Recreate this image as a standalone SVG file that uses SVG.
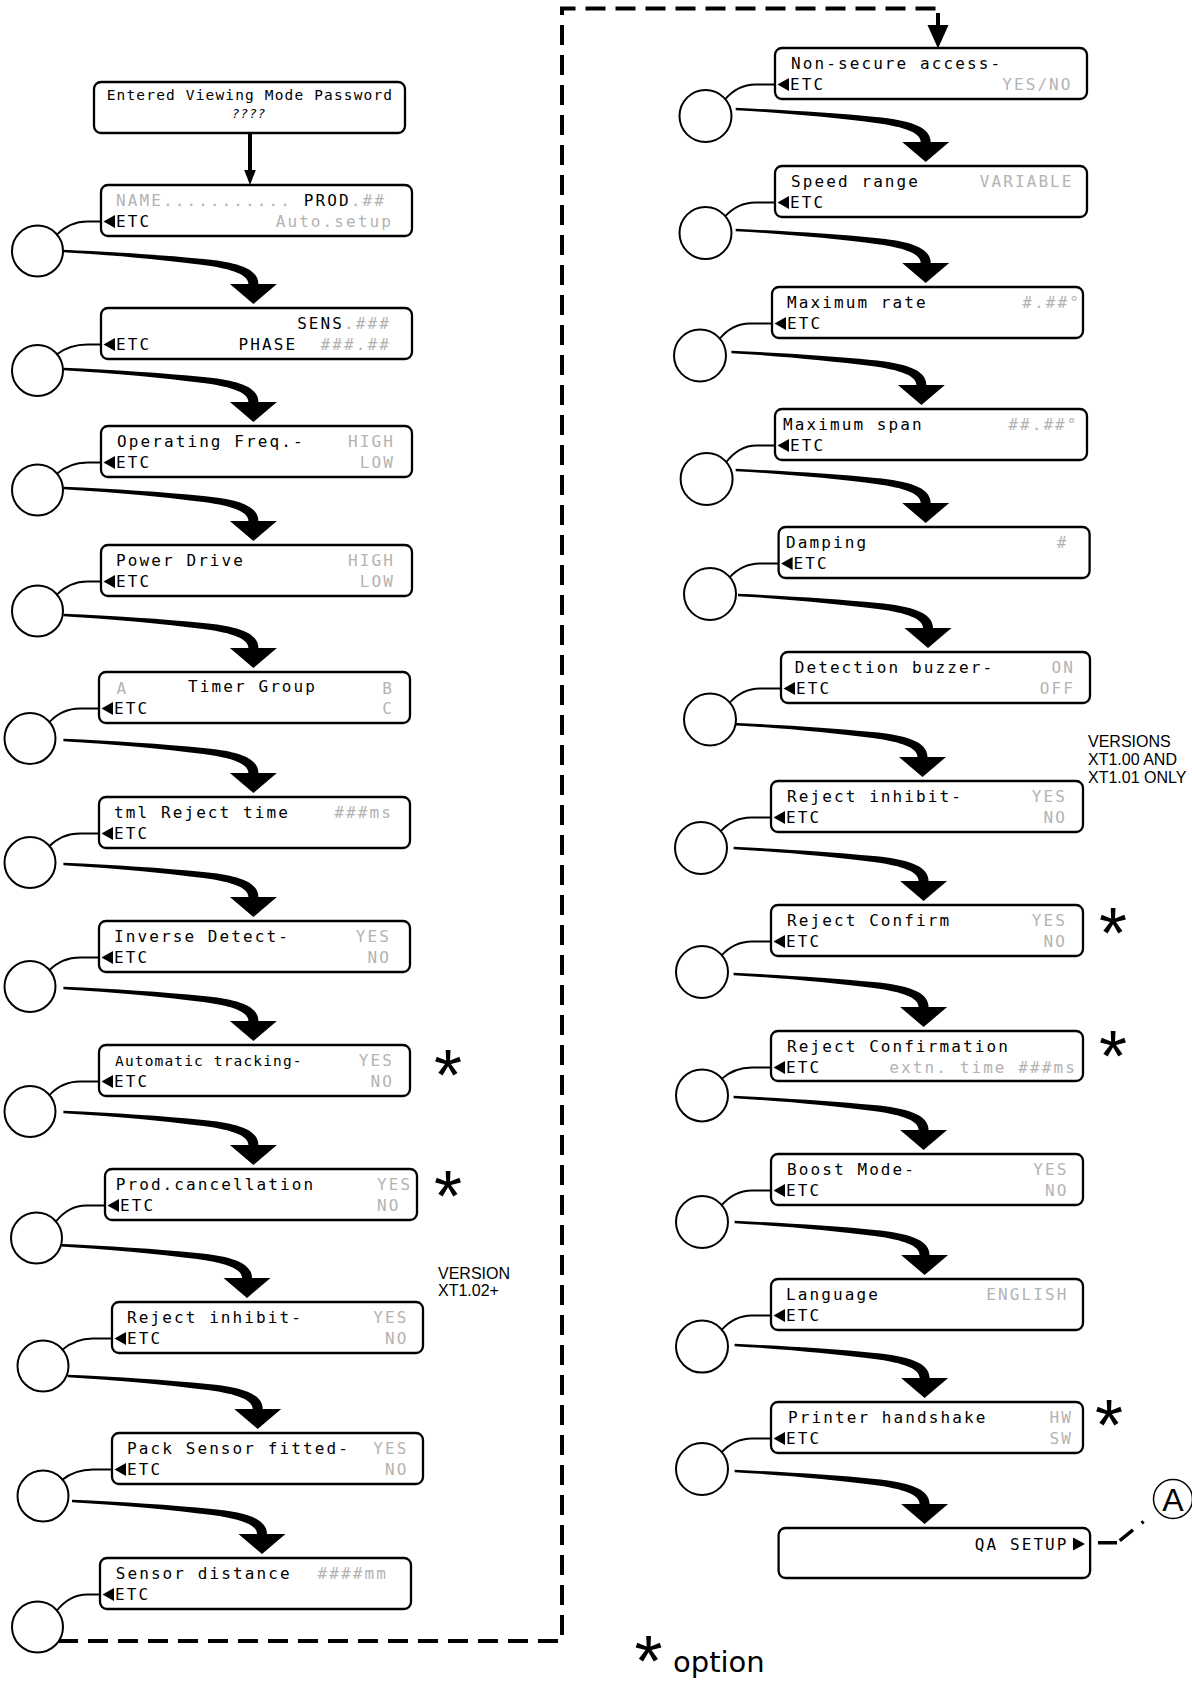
<svg xmlns="http://www.w3.org/2000/svg" xmlns:xlink="http://www.w3.org/1999/xlink" width="1192" height="1684" viewBox="0 0 1192 1684">
<defs>
<style>
.box{fill:#fff;stroke:#000;stroke-width:2.3}
.btn{fill:#fff;stroke:#000;stroke-width:2}
.lcd{font-family:"DejaVu Sans Mono","Liberation Mono",monospace;font-size:16px;letter-spacing:2.1px;fill:#000}
.sm{font-size:14.5px;letter-spacing:1.15px}
.g{fill:#b3b3b3}
.e{text-anchor:end}
.lnk{fill:none;stroke:#000;stroke-width:1.8}
.dash{fill:none;stroke:#000;stroke-width:4;stroke-dasharray:20 10}
.note{font-family:"Liberation Sans",Arial,sans-serif;font-size:16px;fill:#000}
.ast{font-family:"Liberation Sans",Arial,sans-serif;font-size:72px;text-anchor:middle;fill:#000}
</style>
<path id="fa" d="M-190,-54.2 C-140,-52 -90,-49 -50,-45 C-18,-42 5,-36 5,-20 L23.5,-20 L0,0 L-23.5,-20 L-5,-20 C-5,-29 -20,-35 -50,-39 C-90,-44 -140,-49 -190,-51.8 Z" fill="#000"/>
<polygon id="etc" points="2.5,36.5 14,30 14,43" fill="#000"/>
</defs>
<rect width="1192" height="1684" fill="#fff"/>

<g id="connectors">
  <path class="dash" d="M58,1641 H562 V8.5 H936"/>
  <line x1="938" y1="13" x2="938" y2="27" stroke="#000" stroke-width="4"/>
  <polygon points="927.5,25 948.5,25 938,48.5" fill="#000"/>
  <line x1="250" y1="133" x2="250" y2="171" stroke="#000" stroke-width="4"/>
  <polygon points="244.2,170 255.8,170 250,185" fill="#000"/>
  <path d="M1098,1542.7 L1117,1542.7 L1158,1510" fill="none" stroke="#000" stroke-width="3.5" stroke-dasharray="19 3.5 17 11 2.5 100"/>

  <path class="lnk" d="M56.5,235 Q69.5,221.5 87.5,221.5 L101,221.5"/>
  <path class="lnk" d="M56.5,354.5 Q69.5,344.5 87.5,344.5 L101,344.5"/>
  <path class="lnk" d="M56.5,474 Q69.5,462.5 87.5,462.5 L101,462.5"/>
  <path class="lnk" d="M56.5,595 Q69.5,581.5 87.5,581.5 L101,581.5"/>
  <path class="lnk" d="M49,722.5 Q62,708.5 80,708.5 L99,708.5"/>
  <path class="lnk" d="M49,846.5 Q62,833.5 80,833.5 L99,833.5"/>
  <path class="lnk" d="M49,970.5 Q62,957.5 80,957.5 L99,957.5"/>
  <path class="lnk" d="M49,1095.5 Q62,1081.5 80,1081.5 L99,1081.5"/>
  <path class="lnk" d="M55.5,1222 Q68.5,1205.5 86.5,1205.5 L105,1205.5"/>
  <path class="lnk" d="M62,1350 Q75,1338.5 93,1338.5 L112,1338.5"/>
  <path class="lnk" d="M62,1480 Q75,1469.5 93,1469.5 L112,1469.5"/>
  <path class="lnk" d="M56.5,1611 Q69.5,1594.5 87.5,1594.5 L100,1594.5"/>
  <path class="lnk" d="M724.5,100 Q737.5,84.5 755.5,84.5 L775,84.5"/>
  <path class="lnk" d="M724.5,217 Q737.5,202.5 755.5,202.5 L775,202.5"/>
  <path class="lnk" d="M719,339.5 Q732,323.5 750,323.5 L772,323.5"/>
  <path class="lnk" d="M725.6,463 Q738.6,445.5 756.6,445.5 L775,445.5"/>
  <path class="lnk" d="M729,578 Q742,563.5 760,563.5 L778.6,563.5"/>
  <path class="lnk" d="M729,703.5 Q742,688.5 760,688.5 L781,688.5"/>
  <path class="lnk" d="M720,832 Q733,817.5 751,817.5 L771,817.5"/>
  <path class="lnk" d="M721,956 Q734,941.5 752,941.5 L771,941.5"/>
  <path class="lnk" d="M721,1079.4 Q734,1067.5 752,1067.5 L771,1067.5"/>
  <path class="lnk" d="M721,1206 Q734,1190.5 752,1190.5 L771,1190.5"/>
  <path class="lnk" d="M721,1330.6 Q734,1315.5 752,1315.5 L771,1315.5"/>
  <path class="lnk" d="M721,1453 Q734,1438.5 752,1438.5 L771,1438.5"/>

  <use xlink:href="#fa" href="#fa" x="253.4" y="304"/>
  <use xlink:href="#fa" href="#fa" x="253.4" y="422"/>
  <use xlink:href="#fa" href="#fa" x="253.4" y="541"/>
  <use xlink:href="#fa" href="#fa" x="253.4" y="668"/>
  <use xlink:href="#fa" href="#fa" x="253.4" y="793"/>
  <use xlink:href="#fa" href="#fa" x="253.4" y="917"/>
  <use xlink:href="#fa" href="#fa" x="253.4" y="1041"/>
  <use xlink:href="#fa" href="#fa" x="253.4" y="1165"/>
  <use xlink:href="#fa" href="#fa" x="247" y="1298"/>
  <use xlink:href="#fa" href="#fa" x="257.7" y="1429"/>
  <use xlink:href="#fa" href="#fa" x="262" y="1554"/>
  <use xlink:href="#fa" href="#fa" x="925.7" y="162"/>
  <use xlink:href="#fa" href="#fa" x="925.7" y="283"/>
  <use xlink:href="#fa" href="#fa" x="921.4" y="405"/>
  <use xlink:href="#fa" href="#fa" x="925.7" y="523"/>
  <use xlink:href="#fa" href="#fa" x="928" y="648"/>
  <use xlink:href="#fa" href="#fa" x="922.5" y="777"/>
  <use xlink:href="#fa" href="#fa" x="923.6" y="901"/>
  <use xlink:href="#fa" href="#fa" x="923.6" y="1027"/>
  <use xlink:href="#fa" href="#fa" x="923.6" y="1150"/>
  <use xlink:href="#fa" href="#fa" x="924.6" y="1275"/>
  <use xlink:href="#fa" href="#fa" x="924.6" y="1398"/>
  <use xlink:href="#fa" href="#fa" x="924.6" y="1524"/>
</g>

<g id="n-password">
  <rect class="box" x="94" y="82" width="311" height="51" rx="7"/>
  <text class="lcd sm" x="250" y="100" text-anchor="middle">Entered Viewing Mode Password</text>
  <text class="lcd" x="249" y="117.5" text-anchor="middle" style="font-size:13px;letter-spacing:0.8px;font-style:italic">????</text>
</g>

<g id="n-name">
  <circle class="btn" cx="37.5" cy="251" r="25.5"/>
  <g transform="translate(101,185)">
    <rect class="box" width="311" height="51" rx="7"/>
    <text class="lcd" x="15" y="21"><tspan class="g">NAME...........</tspan> PROD<tspan class="g">.##</tspan></text>
    <use xlink:href="#etc" href="#etc"/>
    <text class="lcd" x="15" y="42">ETC</text>
    <text class="lcd g e" x="292" y="42">Auto.setup</text>
  </g>
</g>

<g id="n-sens">
  <circle class="btn" cx="37.5" cy="370.5" r="25.5"/>
  <g transform="translate(101,308)">
    <rect class="box" width="311" height="51" rx="7"/>
    <text class="lcd e" x="290" y="21">SENS<tspan class="g">.###</tspan></text>
    <use xlink:href="#etc" href="#etc"/>
    <text class="lcd" x="15" y="42">ETC</text>
    <text class="lcd e" x="290" y="42" xml:space="preserve">PHASE  <tspan class="g">###.##</tspan></text>
  </g>
</g>

<g id="n-opfreq">
  <circle class="btn" cx="37.5" cy="490" r="25.5"/>
  <g transform="translate(101,426)">
    <rect class="box" width="311" height="51" rx="7"/>
    <text class="lcd" x="16" y="21">Operating Freq.-</text>
    <text class="lcd g e" x="294" y="21">HIGH</text>
    <use xlink:href="#etc" href="#etc"/>
    <text class="lcd" x="15" y="42">ETC</text>
    <text class="lcd g e" x="294" y="42">LOW</text>
  </g>
</g>

<g id="n-power">
  <circle class="btn" cx="37.5" cy="611" r="25.5"/>
  <g transform="translate(101,545)">
    <rect class="box" width="311" height="51" rx="7"/>
    <text class="lcd" x="15" y="21">Power Drive</text>
    <text class="lcd g e" x="294" y="21">HIGH</text>
    <use xlink:href="#etc" href="#etc"/>
    <text class="lcd" x="15" y="42">ETC</text>
    <text class="lcd g e" x="294" y="42">LOW</text>
  </g>
</g>

<g id="n-timer">
  <circle class="btn" cx="30" cy="738.5" r="25.5"/>
  <g transform="translate(99,672)">
    <rect class="box" width="311" height="51" rx="7"/>
    <text class="lcd g" x="17.5" y="22">A</text>
    <text class="lcd" x="89" y="20">Timer Group</text>
    <text class="lcd g e" x="295" y="22">B</text>
    <use xlink:href="#etc" href="#etc"/>
    <text class="lcd" x="15" y="42">ETC</text>
    <text class="lcd g e" x="295" y="42">C</text>
  </g>
</g>

<g id="n-tml">
  <circle class="btn" cx="30" cy="862.5" r="25.5"/>
  <g transform="translate(99,797)">
    <rect class="box" width="311" height="51" rx="7"/>
    <text class="lcd" x="15" y="21">tml Reject time</text>
    <text class="lcd g e" x="294" y="21">###ms</text>
    <use xlink:href="#etc" href="#etc"/>
    <text class="lcd" x="15" y="42">ETC</text>
  </g>
</g>

<g id="n-inverse">
  <circle class="btn" cx="30" cy="986.5" r="25.5"/>
  <g transform="translate(99,921)">
    <rect class="box" width="311" height="51" rx="7"/>
    <text class="lcd" x="15" y="21">Inverse Detect-</text>
    <text class="lcd g e" x="292" y="21">YES</text>
    <use xlink:href="#etc" href="#etc"/>
    <text class="lcd" x="15" y="42">ETC</text>
    <text class="lcd g e" x="292" y="42">NO</text>
  </g>
</g>

<g id="n-autotrack">
  <circle class="btn" cx="30" cy="1111.5" r="25.5"/>
  <g transform="translate(99,1045)">
    <rect class="box" width="311" height="51" rx="7"/>
    <text class="lcd sm" x="16" y="21">Automatic tracking-</text>
    <text class="lcd g e" x="295" y="21">YES</text>
    <use xlink:href="#etc" href="#etc"/>
    <text class="lcd" x="15" y="42">ETC</text>
    <text class="lcd g e" x="295" y="42">NO</text>
  </g>
  <text class="ast" x="448" y="1100.3">*</text>
</g>

<g id="n-prodcanc">
  <circle class="btn" cx="36.5" cy="1238" r="25.5"/>
  <g transform="translate(105,1169)">
    <rect class="box" width="312" height="51" rx="7"/>
    <text class="lcd" x="10.7" y="21">Prod.cancellation</text>
    <text class="lcd g" x="272" y="21">YES</text>
    <use xlink:href="#etc" href="#etc"/>
    <text class="lcd" x="15" y="42">ETC</text>
    <text class="lcd g" x="272" y="42">NO</text>
  </g>
  <text class="ast" x="448" y="1221.3">*</text>
</g>

<g id="n-rejinh-left">
  <circle class="btn" cx="43" cy="1366" r="25.5"/>
  <g transform="translate(112,1302)">
    <rect class="box" width="311" height="51" rx="7"/>
    <text class="lcd" x="15" y="21">Reject inhibit-</text>
    <text class="lcd g e" x="296.5" y="21">YES</text>
    <use xlink:href="#etc" href="#etc"/>
    <text class="lcd" x="15" y="42">ETC</text>
    <text class="lcd g e" x="296.5" y="42">NO</text>
  </g>
  <text class="note" x="438" y="1279">VERSION</text>
  <text class="note" x="438" y="1296">XT1.02+</text>
</g>

<g id="n-packsensor">
  <circle class="btn" cx="43" cy="1496" r="25.5"/>
  <g transform="translate(112,1433)">
    <rect class="box" width="311" height="51" rx="7"/>
    <text class="lcd" x="15" y="21">Pack Sensor fitted-</text>
    <text class="lcd g e" x="296.5" y="21">YES</text>
    <use xlink:href="#etc" href="#etc"/>
    <text class="lcd" x="15" y="42">ETC</text>
    <text class="lcd g e" x="296.5" y="42">NO</text>
  </g>
</g>

<g id="n-sensordist">
  <circle class="btn" cx="37.5" cy="1627" r="25.5"/>
  <g transform="translate(100,1558)">
    <rect class="box" width="311" height="51" rx="7"/>
    <text class="lcd" x="15.7" y="21">Sensor distance</text>
    <text class="lcd g e" x="288" y="21">####mm</text>
    <use xlink:href="#etc" href="#etc"/>
    <text class="lcd" x="15" y="42">ETC</text>
  </g>
</g>

<g id="n-nonsecure">
  <circle class="btn" cx="705.5" cy="116" r="26"/>
  <g transform="translate(775,48)">
    <rect class="box" width="312" height="51" rx="7"/>
    <text class="lcd" x="16" y="21">Non-secure access-</text>
    <use xlink:href="#etc" href="#etc"/>
    <text class="lcd" x="15" y="42">ETC</text>
    <text class="lcd g e" x="297.6" y="42">YES/NO</text>
  </g>
</g>

<g id="n-speedrange">
  <circle class="btn" cx="705.5" cy="233" r="26"/>
  <g transform="translate(775,166)">
    <rect class="box" width="312" height="51" rx="7"/>
    <text class="lcd" x="16" y="21">Speed range</text>
    <text class="lcd g e" x="298.6" y="21">VARIABLE</text>
    <use xlink:href="#etc" href="#etc"/>
    <text class="lcd" x="15" y="42">ETC</text>
  </g>
</g>

<g id="n-maxrate">
  <circle class="btn" cx="700" cy="355.5" r="26"/>
  <g transform="translate(772,287)">
    <rect class="box" width="311" height="51" rx="7"/>
    <text class="lcd" x="15" y="21">Maximum rate</text>
    <text class="lcd g e" x="309" y="21">#.##°</text>
    <use xlink:href="#etc" href="#etc"/>
    <text class="lcd" x="15" y="42">ETC</text>
  </g>
</g>

<g id="n-maxspan">
  <circle class="btn" cx="706.6" cy="479" r="26"/>
  <g transform="translate(775,409)">
    <rect class="box" width="312" height="51" rx="7"/>
    <text class="lcd" x="8" y="21">Maximum span</text>
    <text class="lcd g e" x="303.6" y="21">##.##°</text>
    <use xlink:href="#etc" href="#etc"/>
    <text class="lcd" x="15" y="42">ETC</text>
  </g>
</g>

<g id="n-damping">
  <circle class="btn" cx="710" cy="594" r="26"/>
  <g transform="translate(778.6,527)">
    <rect class="box" width="311" height="51" rx="7"/>
    <text class="lcd" x="7.4" y="21">Damping</text>
    <text class="lcd g e" x="290" y="21">#</text>
    <use xlink:href="#etc" href="#etc"/>
    <text class="lcd" x="15" y="42">ETC</text>
  </g>
</g>

<g id="n-buzzer">
  <circle class="btn" cx="710" cy="719.5" r="26"/>
  <g transform="translate(781,652)">
    <rect class="box" width="309" height="51" rx="7"/>
    <text class="lcd" x="13.7" y="21">Detection buzzer-</text>
    <text class="lcd g e" x="294" y="21">ON</text>
    <use xlink:href="#etc" href="#etc"/>
    <text class="lcd" x="15" y="42">ETC</text>
    <text class="lcd g e" x="294" y="42">OFF</text>
  </g>
</g>

<g id="n-rejinh-right">
  <circle class="btn" cx="701" cy="848" r="26"/>
  <g transform="translate(771,781)">
    <rect class="box" width="312" height="51" rx="7"/>
    <text class="lcd" x="16" y="21">Reject inhibit-</text>
    <text class="lcd g e" x="296" y="21">YES</text>
    <use xlink:href="#etc" href="#etc"/>
    <text class="lcd" x="15" y="42">ETC</text>
    <text class="lcd g e" x="296" y="42">NO</text>
  </g>
  <text class="note" x="1088" y="747">VERSIONS</text>
  <text class="note" x="1088" y="765">XT1.00 AND</text>
  <text class="note" x="1088" y="782.5">XT1.01 ONLY</text>
</g>

<g id="n-rejconfirm">
  <circle class="btn" cx="702" cy="972" r="26"/>
  <g transform="translate(771,905)">
    <rect class="box" width="312" height="51" rx="7"/>
    <text class="lcd" x="16" y="21">Reject Confirm</text>
    <text class="lcd g e" x="296" y="21">YES</text>
    <use xlink:href="#etc" href="#etc"/>
    <text class="lcd" x="15" y="42">ETC</text>
    <text class="lcd g e" x="296" y="42">NO</text>
  </g>
  <text class="ast" x="1113" y="957.8">*</text>
</g>

<g id="n-rejconfirmation">
  <circle class="btn" cx="702" cy="1095.4" r="26"/>
  <g transform="translate(771,1031)">
    <rect class="box" width="312" height="50" rx="7"/>
    <text class="lcd" x="16" y="21">Reject Confirmation</text>
    <use xlink:href="#etc" href="#etc"/>
    <text class="lcd" x="15" y="42">ETC</text>
    <text class="lcd g e" x="306" y="42">extn. time ###ms</text>
  </g>
  <text class="ast" x="1113" y="1080.8">*</text>
</g>

<g id="n-boost">
  <circle class="btn" cx="702" cy="1222" r="26"/>
  <g transform="translate(771,1154)">
    <rect class="box" width="312" height="51" rx="7"/>
    <text class="lcd" x="16" y="21">Boost Mode-</text>
    <text class="lcd g e" x="297.5" y="21">YES</text>
    <use xlink:href="#etc" href="#etc"/>
    <text class="lcd" x="15" y="42">ETC</text>
    <text class="lcd g e" x="297.5" y="42">NO</text>
  </g>
</g>

<g id="n-language">
  <circle class="btn" cx="702" cy="1346.6" r="26"/>
  <g transform="translate(771,1279)">
    <rect class="box" width="312" height="51" rx="7"/>
    <text class="lcd" x="15" y="21">Language</text>
    <text class="lcd g e" x="297.5" y="21">ENGLISH</text>
    <use xlink:href="#etc" href="#etc"/>
    <text class="lcd" x="15" y="42">ETC</text>
  </g>
</g>

<g id="n-printer">
  <circle class="btn" cx="702" cy="1469" r="26"/>
  <g transform="translate(771,1402)">
    <rect class="box" width="312" height="51" rx="7"/>
    <text class="lcd" x="17" y="21">Printer handshake</text>
    <text class="lcd g e" x="302" y="21">HW</text>
    <use xlink:href="#etc" href="#etc"/>
    <text class="lcd" x="15" y="42">ETC</text>
    <text class="lcd g e" x="302" y="42">SW</text>
  </g>
  <text class="ast" x="1109" y="1449.8">*</text>
</g>

<g id="n-qasetup">
  <g transform="translate(778.6,1528)">
    <rect class="box" width="311.5" height="50" rx="7"/>
    <text class="lcd e" x="290" y="22">QA SETUP</text>
    <polygon points="294.4,9.5 294.4,22.5 306.4,16" fill="#000"/>
  </g>
</g>

<g id="n-a">
  <circle cx="1173" cy="1499" r="19.5" fill="#fff" stroke="#000" stroke-width="1.5"/>
  <text x="1173" y="1510.5" text-anchor="middle" style="font-family:'Liberation Sans',Arial,sans-serif;font-size:32px">A</text>
</g>

<g id="legend">
  <text class="ast" x="648.5" y="1686">*</text>
  <text x="673" y="1671.7" style="font-family:'DejaVu Sans',sans-serif;font-size:29px">option</text>
</g>
</svg>
